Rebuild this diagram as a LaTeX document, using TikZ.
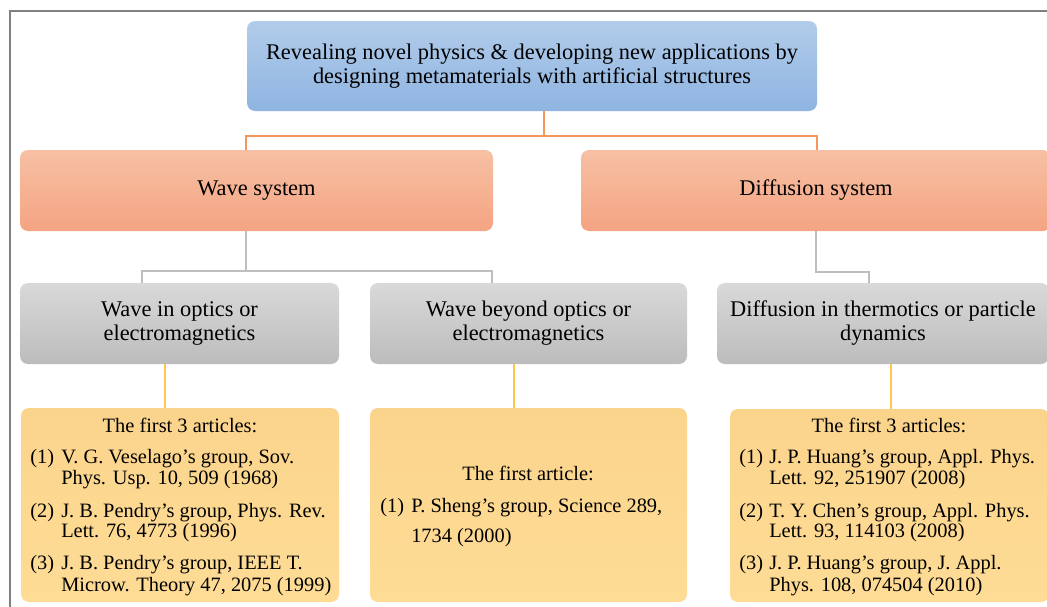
\documentclass[tikz,border=0pt]{standalone}
\usepackage{fontspec}
\setmainfont{Liberation Serif}
\definecolor{blueT}{RGB}{178,204,234}
\definecolor{blueB}{RGB}{142,180,225}
\definecolor{orT}{RGB}{247,192,164}
\definecolor{orB}{RGB}{244,164,130}
\definecolor{grT}{RGB}{217,217,217}
\definecolor{grB}{RGB}{188,188,188}
\definecolor{yeT}{RGB}{251,212,140}
\definecolor{yeB}{RGB}{254,220,150}
\definecolor{oLine}{RGB}{247,150,90}
\definecolor{gLine}{RGB}{190,190,190}
\definecolor{yLine}{RGB}{252,200,80}
\definecolor{frameC}{RGB}{128,128,128}
\begin{document}
\begin{tikzpicture}[x=0.75pt,y=-0.75pt,
  big/.style={font=\fontsize{16.8}{18}\selectfont},
  small/.style={font=\fontsize{15.3}{16}\selectfont},
  box/.style={rectangle, rounded corners=6pt, inner sep=0pt, align=center},
  bluebox/.style={box, top color=blueT, bottom color=blueB, big},
  orbox/.style={box, top color=orT, bottom color=orB, big},
  grbox/.style={box, top color=grT, bottom color=grB, big},
  yebox/.style={box, top color=yeT, bottom color=yeB},
  oline/.style={draw=oLine, line width=1.1pt},
  gline/.style={draw=gLine, line width=1.1pt},
  yline/.style={draw=yLine, line width=1.1pt},
  txt/.style={anchor=base west, inner sep=0pt, small},
  ctxt/.style={anchor=base, inner sep=0pt, small},
]
\useasboundingbox (0,0) rectangle (1047,607);
\clip (0,0) rectangle (1047,607);
\fill[white] (0,0) rectangle (1047,607);
\draw[frameC, line width=1.6pt] (10,640) -- (10,11) -- (1080,11);

% boxes
\node[bluebox, minimum width=427.5pt, minimum height=67.5pt] (top) at (532,66)
  {Revealing novel physics \& developing new applications by\\designing metamaterials with artificial structures};
\node[orbox, minimum width=354.75pt, minimum height=60.75pt] (wave) at (256.5,190.5) {Wave system};
\node[orbox, minimum width=352.5pt, minimum height=60.75pt] (diff) at (816,190.5) {Diffusion system};
\node[grbox, minimum width=239.25pt, minimum height=60.75pt] (g1) at (179.5,323.5) {Wave in optics or\\electromagnetics};
\node[grbox, minimum width=237.75pt, minimum height=60.75pt] (g2) at (528.5,323.5) {Wave beyond optics or\\electromagnetics};
\node[grbox, minimum width=249pt, minimum height=60.75pt] (g3) at (883,323.5) {Diffusion in thermotics or particle\\dynamics};
\node[yebox, minimum width=238.5pt, minimum height=145.5pt] (y1) at (180,505) {};
\node[yebox, minimum width=237.75pt, minimum height=145.5pt] (y2) at (528.5,505) {};
\node[yebox, minimum width=239.25pt, minimum height=144.75pt] (y3) at (889.5,505.5) {};

% connectors
\coordinate (jt) at (544,136);
\coordinate (jw) at (246,136);
\coordinate (jd) at (817,136);
\draw[oline] (jt |- top.south) -- (jt);
\draw[oline] (jw |- wave.north) -- (jw) -- (jd) -- (jd |- diff.north);
\coordinate (kw) at (246,271);
\coordinate (k1) at (142,271);
\coordinate (k2) at (492,271);
\draw[gline] (kw |- wave.south) -- (kw);
\draw[gline] (k1 |- g1.north) -- (k1) -- (k2) -- (k2 |- g2.north);
\coordinate (kd) at (816,272);
\coordinate (k3) at (869,272);
\draw[gline] (kd |- diff.south) -- (kd) -- (k3) -- (k3 |- g3.north);
\coordinate (l1) at (165,0);
\coordinate (l2) at (514,0);
\coordinate (l3) at (891,0);
\draw[yline] (l1 |- g1.south) -- (l1 |- y1.north);
\draw[yline] (l2 |- g2.south) -- (l2 |- y2.north);
\draw[yline] (l3 |- g3.south) -- (l3 |- y3.north);

% texts box 1
\node[ctxt] (h1) at (180,432) {The first 3 articles:};
\node[txt] (n11) at (30,463) {(1)};
\node[txt] (t11) at (61,463) {V. G. Veselago’s group, Sov.};
\node[txt] (u11) at (61,484) {Phys. Usp. 10, 509 (1968)};
\node[txt] (n12) at (30,517) {(2)};
\node[txt] (t12) at (61,517) {J. B. Pendry’s group, Phys. Rev.};
\node[txt] (u12) at (61,537) {Lett. 76, 4773 (1996)};
\node[txt] (n13) at (30,569) {(3)};
\node[txt] (t13) at (61,569) {J. B. Pendry’s group, IEEE T.};
\node[txt] (u13) at (61,591) {Microw. Theory 47, 2075 (1999)};

% texts box 2
\node[ctxt] (h2) at (528,480) {The first article:};
\node[txt] (n21) at (380,512) {(1)};
\node[txt] (t21) at (411,512) {P. Sheng’s group, Science 289,};
\node[txt] (u21) at (411,542) {1734 (2000)};

% texts box 3
\node[ctxt] (h3) at (889,432) {The first 3 articles:};
\node[txt] (n31) at (739,463) {(1)};
\node[txt] (t31) at (769,463) {J. P. Huang’s group, Appl. Phys.};
\node[txt] (u31) at (769,484) {Lett. 92, 251907 (2008)};
\node[txt] (n32) at (739,517) {(2)};
\node[txt] (t32) at (769,517) {T. Y. Chen’s group, Appl. Phys.};
\node[txt] (u32) at (769,537) {Lett. 93, 114103 (2008)};
\node[txt] (n33) at (739,569) {(3)};
\node[txt] (t33) at (769,569) {J. P. Huang’s group, J. Appl.};
\node[txt] (u33) at (769,591) {Phys. 108, 074504 (2010)};
\end{tikzpicture}
\end{document}
